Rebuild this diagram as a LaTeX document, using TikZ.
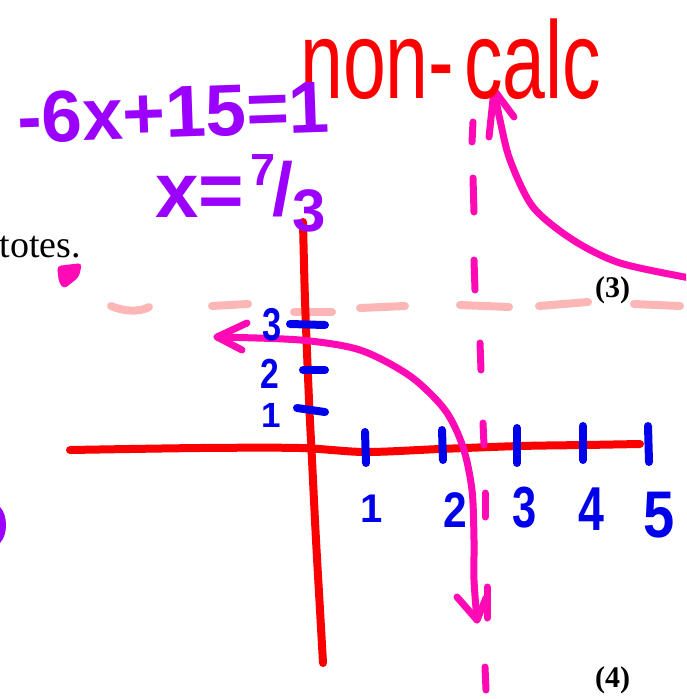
\documentclass[tikz,border=0pt]{standalone}
\usepackage{fontspec}
\setmainfont{Liberation Serif}
\newfontfamily\hand{Liberation Sans}
\usetikzlibrary{calc}
\definecolor{penred}{RGB}{250,0,0}
\definecolor{penpurple}{RGB}{155,0,255}
\definecolor{penpink}{RGB}{255,10,180}
\definecolor{penlight}{RGB}{252,182,182}
\definecolor{penblue}{RGB}{0,0,235}
\tikzset{
  pen/.style={line width=#1, line cap=round, line join=round},
  axisline/.style={pen=8pt, draw=penred},
  branch/.style={pen=7pt, draw=penpink},
  vasym/.style={pen=7pt, draw=penpink},
  hasym/.style={pen=8pt, draw=penlight},
  tickmark/.style={pen=8pt, draw=penblue},
  handtext/.style={inner sep=0pt, anchor=base west, font=\hand\bfseries},
  digit/.style={inner sep=0pt, anchor=base, text=penblue, font=\hand\bfseries\fontsize{#1}{#1}\selectfont},
  printed/.style={inner sep=0pt, anchor=base west, text=black},
}
\begin{document}
\begin{tikzpicture}[x=1pt,y=-1pt]
\clip (0,0) rectangle (686,699);
\fill[white] (0,0) rectangle (686,699);

% horizontal asymptote (light pink dashes)
\draw[hasym] (111,306) .. controls (125,312) and (140,312) .. (149,307);
\draw[hasym] (212,306) -- (248,304);
\draw[hasym] (294,312) -- (332,312);
\draw[hasym] (360,308) -- (405,306);
\draw[hasym] (460,305) -- (509,307);
\draw[hasym] (539,306) -- (588,302);
\draw[hasym] (634,304) -- (680,306);

% axes
\draw[axisline] plot[smooth] coordinates {(70,450) (200,448) (300,448) (365,452) (440,449) (520,446) (585,445) (640,444)};
\draw[axisline] plot[smooth] coordinates {(303,222) (305,300) (309,400) (312,460) (316,540) (320,610) (323,663)};

% ticks
\draw[tickmark] (290,324) -- (325,325);
\draw[tickmark] (303,370) -- (325,370);
\draw[tickmark] (297,408) -- (325,412);
\draw[tickmark] (365,432) -- (366,463);
\draw[tickmark] (442,430) -- (443,460);
\draw[tickmark] (517,428) -- (517,463);
\draw[tickmark] (583,426) -- (583,460);
\draw[tickmark] (648,426) -- (649,462);

% vertical asymptote (pink dashes)
\draw[vasym] (473,122) -- (472,142);
\draw[vasym] (473,178) -- (474,212);
\draw[vasym] (474,260) -- (475,290);
\draw[vasym] (480,343) -- (481,370);
\draw[vasym] (483,423) -- (484,445);
\draw[vasym] (485,493) -- (485,517);
\draw[vasym] (487,587) -- (487,618);
\draw[vasym] (485,667) -- (486,690);

% lower branch
\draw[branch] plot[smooth] coordinates {(217,337) (300,340) (360,350) (410,376) (445,410) (463,447) (472,490) (474,540) (474,580) (477,620)};
\draw[branch] (247,323) -- (217,337) -- (242,350);
\draw[branch] (457,597) -- (477,620) -- (486,598);

% upper branch
\draw[branch] plot[smooth] coordinates {(690,278) (620,263) (573,240) (533,207) (510,160) (500,120) (494,90)};
\draw[branch] (514,117) -- (494,90) -- (489,137);

% blobs
\fill[penpink, rounded corners=4pt] (57,266) -- (82,263) -- (79,277) -- (64,289) -- (59,283) -- cycle;
\fill[penpurple] (0,507) .. controls (8,515) and (8,535) .. (0,543) -- cycle;

% handwritten texts
\node[handtext, text=penred, font=\hand] (noncalc) at (300,98) {\fontsize{110}{110}\selectfont\scalebox{0.70}[1]{non-\kern14pt calc}};
\node[handtext, text=penpurple, rotate=2] (eq) at (18,143) {\fontsize{73}{73}\selectfont -6x+15=1};
\node[handtext, text=penpurple] (xeq) at (155,217) {\fontsize{78}{78}\selectfont x=};
\node[handtext, text=penpurple] (frac) at (250,215) {\raisebox{30pt}{\fontsize{45}{45}\selectfont 7}\kern-3pt{\fontsize{75}{75}\selectfont /}\kern-1pt\raisebox{-16pt}{\fontsize{60}{60}\selectfont 3}};

% blue numbers
\node[digit=46] (y3) at (272,340) {\scalebox{0.75}[1]{3}};
\node[digit=42] (y2) at (270,388) {\scalebox{0.8}[1]{2}};
\node[digit=35] (y1) at (271,427) {1};
\node[digit=40] (x1) at (372,522) {1};
\node[digit=50] (x2) at (455,527) {\scalebox{0.85}[1]{2}};
\node[digit=58] (x3) at (525,527) {\scalebox{0.75}[1]{3}};
\node[digit=62] (x4) at (591,530) {\scalebox{0.75}[1]{4}};
\node[digit=66] (x5) at (659,537) {\scalebox{0.85}[1]{5}};

% printed texts
\node[printed, anchor=base east] (totes) at (81,257) {\fontsize{38}{38}\selectfont totes.};
\node[printed] (p3) at (595,297) {\fontsize{30}{30}\selectfont\bfseries (3)};
\node[printed] (p4) at (595,687) {\fontsize{30}{30}\selectfont\bfseries (4)};
\end{tikzpicture}
\end{document}
